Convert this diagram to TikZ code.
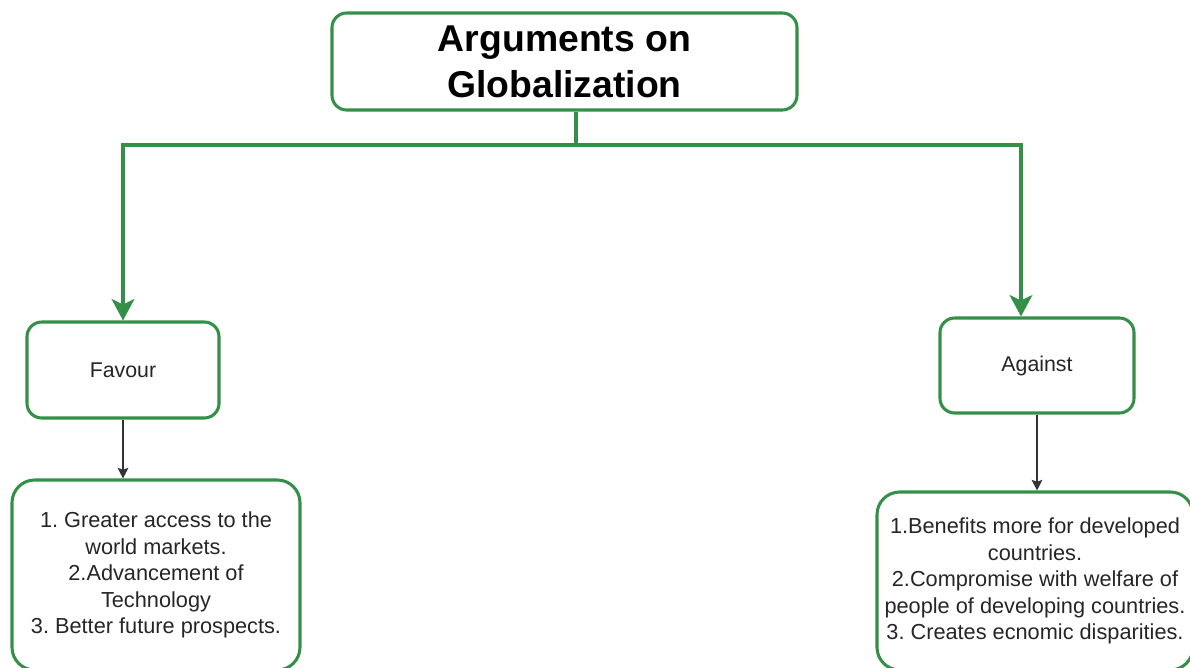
\documentclass[tikz,border=0pt]{standalone}
\usepackage{fontspec}
\setmainfont{Liberation Sans}
\usetikzlibrary{arrows.meta,calc}
\definecolor{gr}{RGB}{52,143,72}
\frenchspacing
\begin{document}
\begin{tikzpicture}[x=0.75pt,y=-0.75pt,
  gbox/.style={draw=gr,line width=2.3pt,fill=white,rounded corners=11pt,inner sep=0pt,align=center},
  listbox/.style={gbox,rounded corners=17pt,font=\fontsize{16.3}{19.8}\selectfont,text=black!85},
  lblbox/.style={gbox,font=\fontsize{16}{19}\selectfont,text=black!85},
  gline/.style={draw=gr,line width=2.6pt},
  garrow/.style={gline,-{Stealth[length=16pt,width=17pt,inset=4pt]}},
  karrow/.style={draw=black!80,line width=0.8pt,-{Stealth[length=8pt,width=8pt,inset=1.5pt]}}]
\useasboundingbox (0,0) rectangle (1190,668);
\clip (0,0) rectangle (1190,668);
\node[gbox,minimum width=348.75pt,minimum height=72.75pt,font=\bfseries\fontsize{28}{34.5}\selectfont] (top) at (564.5,61.5) {Arguments on\\Globalization};
\node[lblbox,minimum width=144pt,minimum height=72pt] (fav) at (123,370) {Favour};
\node[lblbox,minimum width=145.5pt,minimum height=71.25pt] (ag) at (1037,365.5) {Against};
\node[listbox,minimum width=216pt,minimum height=142.5pt] (favlist) at (156,575) {1. Greater access to the\\world markets.\\2.Advancement of\\Technology\\3. Better future prospects.};
\node[listbox,minimum width=237pt,minimum height=133.5pt] (aglist) at (1035,581) {1.Benefits more for developed\\countries.\\2.Compromise with welfare of\\people of developing countries.\\3. Creates ecnomic disparities.};
\coordinate (j) at (576,145);
\coordinate (rj) at (1021,145);
\draw[gline] (top.south -| j) -- (j);
\draw[garrow] (j) -| (fav.north);
\draw[garrow] (j) -- (rj) -- (rj |- ag.north);
\draw[karrow] (fav.south) -- (fav.south |- favlist.north);
\draw[karrow] (ag.south) -- (ag.south |- aglist.north);
\end{tikzpicture}
\end{document}
